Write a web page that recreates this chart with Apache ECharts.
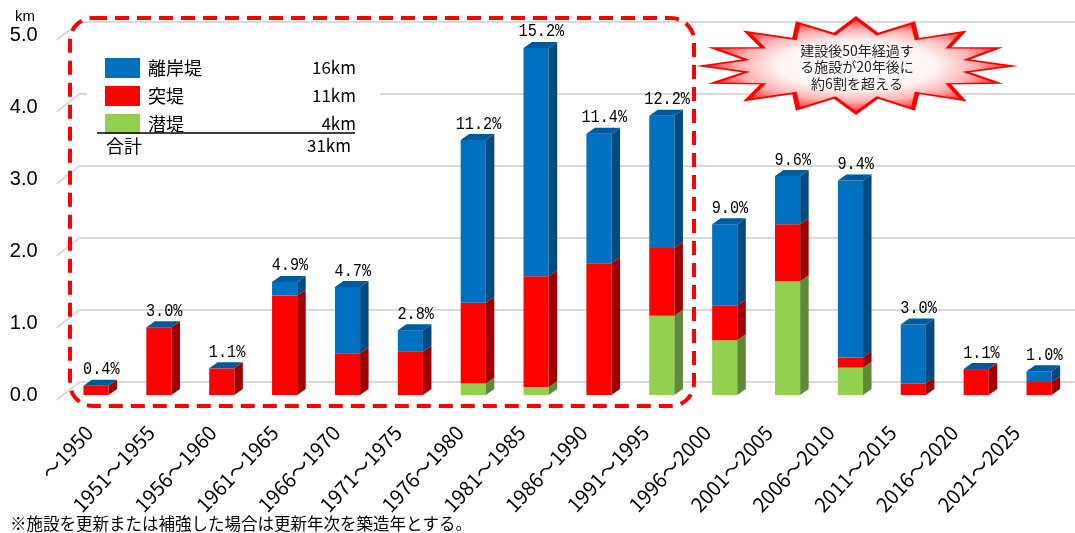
<!DOCTYPE html>
<html><head><meta charset="utf-8">
<script src="https://cdn.jsdelivr.net/npm/echarts@6/dist/echarts.min.js"></script>
<style>html,body{margin:0;padding:0;background:#fff}#c{width:1075px;height:533px}</style>
</head><body><div id="c"></div>
<script>
const categories = ['〜1950','1951〜1955','1956〜1960','1961〜1965','1966〜1970','1971〜1975','1976〜1980','1981〜1985','1986〜1990','1991〜1995','1996〜2000','2001〜2005','2006〜2010','2011〜2015','2016〜2020','2021〜2025'];
const seriesNames = ['離岸堤','突堤','潜堤'];
const kmTotals = ['16km','11km','4km'];
const grandTotal = '31km';
const rigan = [0, 0, 0, 0.19, 0.92, 0.30, 2.26, 3.17, 1.80, 1.84, 1.13, 0.67, 2.46, 0.82, 0, 0.15];
const totsu = [0.13, 0.94, 0.37, 1.38, 0.58, 0.60, 1.12, 1.54, 1.83, 0.94, 0.48, 0.79, 0.14, 0.16, 0.36, 0.18];
const senn  = [0, 0, 0, 0, 0, 0, 0.16, 0.11, 0, 1.10, 0.76, 1.58, 0.38, 0, 0, 0];
const pctLabels = ['0.4%','3.0%','1.1%','4.9%','4.7%','2.8%','11.2%','15.2%','11.4%','12.2%','9.0%','9.6%','9.4%','3.0%','1.1%','1.0%'];
const yTicks = [0, 1, 2, 3, 4, 5];

const DX = 8.5, DY = -6;
const COLORS = {
  blue:  {front:'#0070C0', side:'#004A80', top:'#005A9E'},
  red:   {front:'#FF0000', side:'#A00000', top:'#C00000'},
  green: {front:'#92D050', side:'#5E8A35', top:'#76AD3E'}
};

// stacked data: bottom green, then red, then blue
const greenData = [], redData = [], blueData = [];
categories.forEach((c, i) => {
  const g1 = senn[i];
  const r1 = g1 + totsu[i];
  const b1 = r1 + rigan[i];
  greenData.push([i, 0, g1]);
  redData.push([i, g1, r1]);
  blueData.push([i, r1, b1]);
});

function makeRender(col, isTop) {
  return function (params, api) {
    const i = api.value(0), b = api.value(1), t = api.value(2);
    const pb = api.coord([i, b]), pt = api.coord([i, t]);
    const w = api.size([1, 0])[0] * 0.4;
    const x0 = pb[0] - w / 2, x1 = pb[0] + w / 2;
    const yb = pb[1], yt = pt[1];
    const children = [];
    if (t - b > 0.0001) {
      children.push({type:'rect', shape:{x:x0, y:yt, width:w, height:yb - yt}, style:{fill:col.front}});
      children.push({type:'polygon', shape:{points:[[x1, yt],[x1 + DX, yt + DY],[x1 + DX, yb + DY],[x1, yb]]}, style:{fill:col.side}});
    }
    if (isTop) {
      children.push({type:'polygon', shape:{points:[[x0, yt],[x0 + DX, yt + DY],[x1 + DX, yt + DY],[x1, yt]]}, style:{fill:col.top}});
      children.push({type:'text', x:pb[0] + DX / 2 + 1, y:yt + DY - 1, scaleX:0.8,
        style:{text:pctLabels[i], x:0, y:0, align:'center', verticalAlign:'bottom', fontSize:19, fontFamily:'"Liberation Mono", monospace', fill:'#000'}});
    }
    return {type:'group', children};
  };
}

function gridRender(params, api) {
  const cs = params.coordSys;
  const y = api.coord([0, api.value(1)])[1];
  return {type:'polyline', silent:true,
    shape:{points:[[cs.x - 8, y + 5],[cs.x + 15, y - 13],[cs.x + cs.width + 10, y - 13]]},
    style:{stroke:'#D9D9D9', lineWidth:2, fill:null}};
}

// starburst decoration (drawn in a compressed local space, then stretched horizontally)
const sc = [857, 66];
const SX = 3.26;
const tips = [[856,18],[913,23],[963,32],[998,48],[1012,66],[998,83],[963,100],[913,109],[856,113],[798,109],[747,100],[713,83],[702,66],[713,48],[747,32],[798,23]];
const starPts = [];
tips.forEach((p, k) => {
  const q = tips[(k + 1) % tips.length];
  const mx = (p[0] + q[0]) / 2 - sc[0], my = (p[1] + q[1]) / 2 - sc[1];
  starPts.push([(p[0] - sc[0]) / SX, p[1] - sc[1]]);
  starPts.push([mx * 0.74 / SX, my * 0.7]);
});

const FONT_JP = '"Noto Sans CJK JP", sans-serif';
const chart = echarts.init(document.getElementById('c'));
chart.setOption({
  animation:false,
  backgroundColor:'#fff',
  grid:[
    {left:64.6, right:4.5, top:35, bottom:138, containLabel:false},
    {left:58.1, right:28.1, top:35, bottom:138, containLabel:false}
  ],
  xAxis:[
    {type:'category', gridIndex:0, data:categories,
      axisLine:{show:false}, axisTick:{show:false}, splitLine:{show:false}, axisLabel:{show:false}},
    {type:'category', gridIndex:1, data:categories,
      axisLine:{show:false}, axisTick:{show:false}, splitLine:{show:false},
      axisLabel:{interval:0, rotate:47, margin:34, fontSize:20, fontFamily:FONT_JP, color:'#000'}}
  ],
  yAxis:[
    {type:'value', gridIndex:0, min:0, max:5, interval:1,
      axisLine:{show:false}, axisTick:{show:false}, splitLine:{show:false},
      axisLabel:{margin:27, fontSize:20, fontFamily:'"Liberation Sans", Arial, sans-serif', color:'#000', padding:[8,0,0,0], formatter:v => v.toFixed(1)}},
    {type:'value', gridIndex:1, min:0, max:5, interval:1, show:false}
  ],
  legend:{orient:'vertical', left:100, top:53, itemWidth:35, itemHeight:20, itemGap:8, icon:'rect',
    data:seriesNames, selectedMode:false,
    formatter:name => '{n|' + name + '}{v|' + kmTotals[seriesNames.indexOf(name)] + '}',
    textStyle:{padding:[0,0,0,3], rich:{
      n:{width:140, fontSize:18, fontFamily:FONT_JP, color:'#000'},
      v:{width:68, align:'right', fontSize:17, fontFamily:FONT_JP, color:'#000'}}}},
  graphic:[
    {type:'rect', z:3, silent:true, shape:{x:87, y:40, width:293, height:122}, style:{fill:'#fff'}},
    {type:'line', z:5, shape:{x1:97, y1:133, x2:355, y2:133}, style:{stroke:'#000', lineWidth:1.5}},
    {type:'text', z:5, style:{text:'合計', x:106, y:146, verticalAlign:'middle', fontSize:18, fontFamily:FONT_JP, fill:'#000'}},
    {type:'text', z:5, style:{text:grandTotal, x:351, y:146, align:'right', verticalAlign:'middle', fontSize:17, fontFamily:FONT_JP, fill:'#000'}},
    {type:'text', z:5, style:{text:'km', x:25, y:17, align:'center', verticalAlign:'middle', fontSize:15, fontFamily:'"Liberation Sans", sans-serif', fill:'#000'}},
    {type:'rect', z:6, silent:true, shape:{x:70, y:18, width:624, height:388, r:23}, style:{fill:null, stroke:'#FF0000', lineWidth:4, lineDash:[14,8]}},
    {type:'polygon', z:6, x:sc[0], y:sc[1], scaleX:SX, shape:{points:starPts},
      style:{stroke:'#FF0000', lineWidth:1.5, strokeNoScale:true,
        fill:{type:'radial', x:0.5, y:0.5, r:0.5, colorStops:[{offset:0, color:'#FFFFFF'},{offset:0.5, color:'#FFF4F4'},{offset:0.75, color:'#FFB0B0'},{offset:1, color:'#FF1A1A'}]}}},
    {type:'text', z:7, style:{text:'建設後50年経過す\nる施設が20年後に\n約6割を超える', x:857, y:67, align:'center', verticalAlign:'middle', lineHeight:16.5, fontSize:14, fontFamily:FONT_JP, fill:'#222'}},
    {type:'text', z:5, style:{text:'※施設を更新または補強した場合は更新年次を築造年とする。', x:10, y:524, verticalAlign:'middle', fontSize:16.5, fontFamily:FONT_JP, fill:'#000'}}
  ],
  series:[
    {type:'custom', name:'grid', silent:true, z:1, renderItem:gridRender, data:yTicks.map(v => [0, v]), encode:{x:0, y:1}},
    {type:'custom', name:'潜堤', z:2, itemStyle:{color:COLORS.green.front}, renderItem:makeRender(COLORS.green, false), data:greenData, encode:{x:0, y:[1,2]}},
    {type:'custom', name:'突堤', z:2, itemStyle:{color:COLORS.red.front}, renderItem:makeRender(COLORS.red, false), data:redData, encode:{x:0, y:[1,2]}},
    {type:'custom', name:'離岸堤', z:2, itemStyle:{color:COLORS.blue.front}, renderItem:makeRender(COLORS.blue, true), data:blueData, encode:{x:0, y:[1,2]}}
  ]
});
</script></body></html>
